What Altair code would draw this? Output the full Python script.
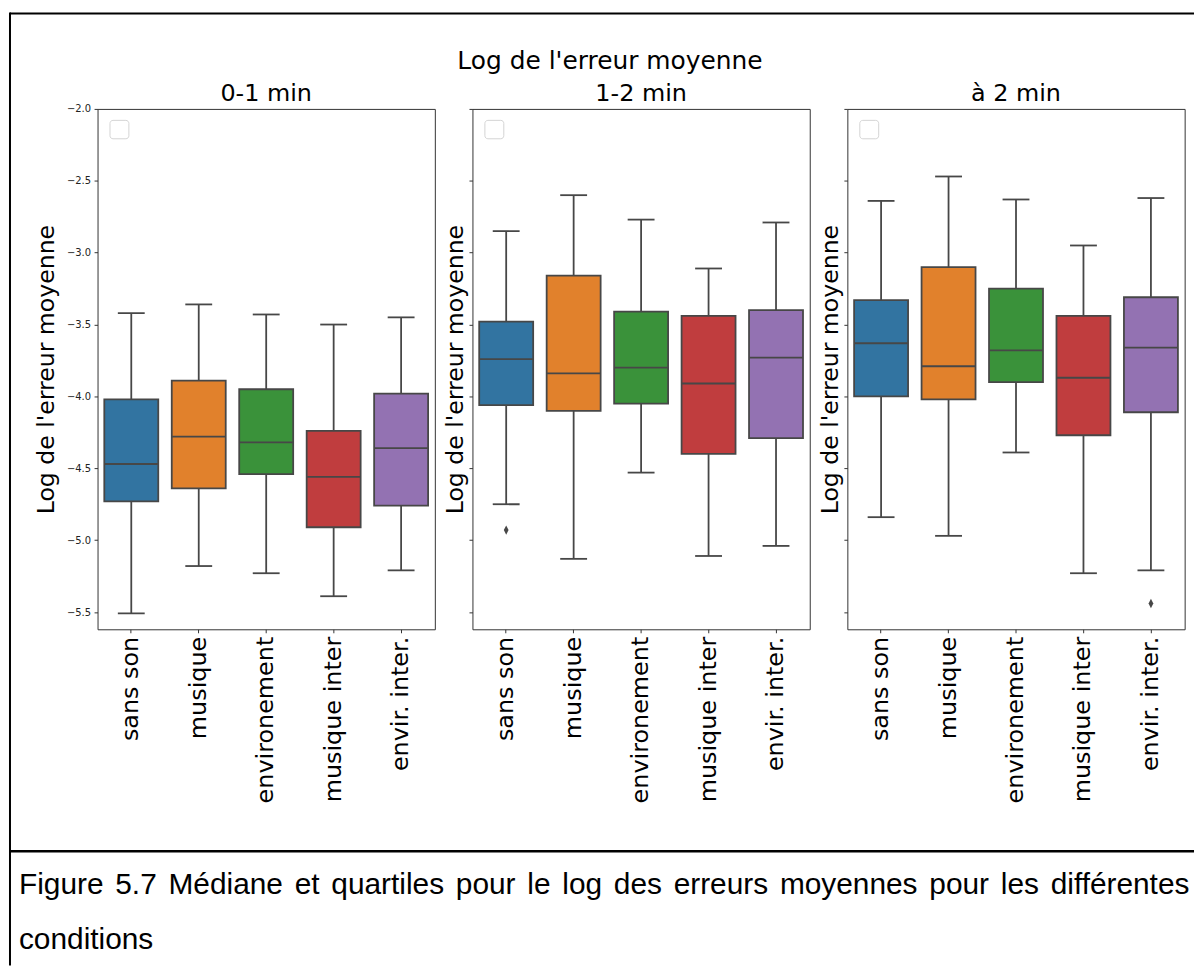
import altair as alt
import pandas as pd

categories = ["sans son", "musique", "environement", "musique inter", "envir. inter."]
colors = ["#3274a1", "#e1812c", "#3a923a", "#c03d3e", "#9372b2"]
panels = ["0-1 min", "1-2 min", "à 2 min"]

# panel 0-1 min
p1_lower = [-5.51, -5.18, -5.23, -5.39, -5.21]
p1_q1 = [-4.73, -4.64, -4.54, -4.91, -4.76]
p1_median = [-4.47, -4.28, -4.32, -4.56, -4.36]
p1_q3 = [-4.02, -3.89, -3.95, -4.24, -3.98]
p1_upper = [-3.42, -3.36, -3.43, -3.50, -3.45]

# panel 1-2 min
p2_lower = [-4.75, -5.13, -4.53, -5.11, -5.04]
p2_q1 = [-4.06, -4.10, -4.05, -4.40, -4.29]
p2_median = [-3.74, -3.84, -3.80, -3.91, -3.73]
p2_q3 = [-3.48, -3.16, -3.41, -3.44, -3.40]
p2_upper = [-2.85, -2.60, -2.77, -3.11, -2.79]

# panel à 2 min
p3_lower = [-4.84, -4.97, -4.39, -5.23, -5.21]
p3_q1 = [-4.00, -4.02, -3.90, -4.27, -4.11]
p3_median = [-3.63, -3.79, -3.68, -3.87, -3.66]
p3_q3 = [-3.33, -3.10, -3.25, -3.44, -3.31]
p3_upper = [-2.64, -2.47, -2.63, -2.95, -2.62]

outlier_panel = ["1-2 min", "à 2 min"]
outlier_cat = ["sans son", "envir. inter."]
outlier_val = [-4.93, -5.44]

y_ticks = [-5.5, -5.0, -4.5, -4.0, -3.5, -3.0, -2.5, -2.0]

suptitle = "Log de l'erreur moyenne"
ytitle = "Log de l'erreur moyenne"
caption_line1 = "Figure 5.7 Médiane et quartiles pour le log des erreurs moyennes pour les différentes"
caption_line2 = "conditions"

stats = {
    "0-1 min": (p1_lower, p1_q1, p1_median, p1_q3, p1_upper),
    "1-2 min": (p2_lower, p2_q1, p2_median, p2_q3, p2_upper),
    "à 2 min": (p3_lower, p3_q1, p3_median, p3_q3, p3_upper),
}

LINE = "#474747"
LW = 1.8
W = 339
H = 523
FONT = "DejaVu Sans"
yscale = alt.Scale(domain=[-5.62, -2.0], nice=False, zero=False)

# Arial-like advance widths (per em) for justified caption layout
ARIAL = {c: 0.556 for c in "abdeghnopqué0123456789"}
ARIAL.update({"c": 0.5, "k": 0.5, "s": 0.5, "v": 0.5, "x": 0.5, "y": 0.5, "z": 0.5,
              "f": 0.278, "t": 0.278, "i": 0.222, "j": 0.222, "l": 0.222, "r": 0.333,
              "m": 0.833, "w": 0.722, "F": 0.611, "M": 0.833, ".": 0.278})
CAP_FS = 30


def word_w(w):
    return sum(ARIAL.get(ch, 0.556) for ch in w) * CAP_FS


def decorations():
    """Borders, suptitle and caption, positioned relative to the first panel."""
    one = pd.DataFrame({"a": [0]})
    layers = []
    # frame lines of the figure
    layers.append(alt.Chart(one).mark_rule(color="black", strokeWidth=2).encode(
        x=alt.value(-88), y=alt.value(-97), y2=alt.value(861)))
    layers.append(alt.Chart(one).mark_rule(color="black", strokeWidth=2).encode(
        x=alt.value(-88), x2=alt.value(1102), y=alt.value(-96)))
    layers.append(alt.Chart(one).mark_rule(color="black", strokeWidth=2.5).encode(
        x=alt.value(-88), x2=alt.value(1102), y=alt.value(746)))
    # suptitle
    layers.append(alt.Chart(one).mark_text(
        text=suptitle, font=FONT, fontSize=25, align="center", baseline="alphabetic",
        color="black").encode(x=alt.value(515), y=alt.value(-40)))
    # caption, justified line 1
    words = caption_line1.split(" ")
    left, right = 18 - 97, 1195 - 97
    total = sum(word_w(w) for w in words)
    gap = (right - left - total) / (len(words) - 1)
    xpos = left
    for w in words:
        layers.append(alt.Chart(one).mark_text(
            text=w, font="Liberation Sans", fontSize=CAP_FS, align="left",
            baseline="alphabetic", color="black").encode(x=alt.value(xpos), y=alt.value(789)))
        xpos += word_w(w) + gap
    layers.append(alt.Chart(one).mark_text(
        text=caption_line2, font="Liberation Sans", fontSize=CAP_FS, align="left",
        baseline="alphabetic", color="black").encode(x=alt.value(left), y=alt.value(844)))
    return layers


def panel(name, first):
    lo, q1, med, q3, up = stats[name]
    df = pd.DataFrame({"cat": categories, "lower": lo, "q1": q1, "median": med,
                       "q3": q3, "upper": up})
    if first:
        yaxis = alt.Axis(values=y_ticks, title=ytitle,
                         labelExpr="replace(format(datum.value, '.1f'), '-', '\u2212')",
                         labelFont=FONT, labelFontSize=10, labelColor="#222",
                         tickSize=3.5, tickColor="#333", labelPadding=3.5, domain=False, grid=False,
                         titleFont=FONT, titleFontSize=23.7, titleFontWeight="normal",
                         titleColor="black", titleX=-44, titleY=H / 2, titleAngle=-90,
                         titleBaseline="alphabetic", titleAlign="center")
    else:
        yaxis = alt.Axis(values=y_ticks, title=ytitle, labels=False,
                         tickSize=3.5, tickColor="#333", domain=False, grid=False,
                         titleFont=FONT, titleFontSize=23.7, titleFontWeight="normal",
                         titleColor="black", titleX=-9.5, titleY=H / 2, titleAngle=-90,
                         titleBaseline="alphabetic", titleAlign="center")
    xaxis = alt.Axis(title=None, labelAngle=-90, labelFont=FONT, labelFontSize=24,
                     labelColor="black", tickSize=3.5, tickColor="#333", labelPadding=3.5,
                     domain=False, grid=False, labelOverlap=False)
    x = alt.X("cat:N", sort=categories,
              scale=alt.Scale(domain=categories, paddingInner=0, paddingOuter=0), axis=xaxis)

    def Y(f):
        return alt.Y(f + ":Q", scale=yscale, axis=yaxis)

    base = alt.Chart(df).encode(x=x)
    whisker = base.mark_rule(color=LINE, strokeWidth=LW).encode(y=Y("lower"), y2="upper:Q")
    cap_lo = base.mark_tick(color=LINE, size=27, thickness=LW, opacity=1).encode(y=Y("lower"))
    cap_hi = base.mark_tick(color=LINE, size=27, thickness=LW, opacity=1).encode(y=Y("upper"))
    box = base.mark_bar(width=alt.RelativeBandSize(0.8), stroke=LINE, strokeWidth=LW,
                        opacity=1).encode(
        y=Y("q1"), y2="q3:Q",
        color=alt.Color("cat:N", scale=alt.Scale(domain=categories, range=colors), legend=None))
    med_t = base.mark_tick(color=LINE, size=54.2, thickness=LW, opacity=1).encode(y=Y("median"))
    layers = [whisker, cap_lo, cap_hi, box, med_t]

    odf = pd.DataFrame({"panel": outlier_panel, "cat": outlier_cat, "val": outlier_val})
    odf = odf[odf["panel"] == name]
    if len(odf):
        layers.append(alt.Chart(odf).mark_point(
            shape="M0,-1L0.5,0L0,1L-0.5,0Z", filled=True, color=LINE, size=90,
            opacity=1).encode(x=x, y=Y("val")))

    one = pd.DataFrame({"a": [0]})
    legend_box = alt.Chart(one).mark_rect(
        fill="white", stroke="#d4d4d4", strokeWidth=1, cornerRadius=3).encode(
        x=alt.value(12.5), x2=alt.value(31.5), y=alt.value(11.5), y2=alt.value(30))
    layers.append(legend_box)
    # panel title
    layers.append(alt.Chart(one).mark_text(
        text=name, font=FONT, fontSize=24, align="center", baseline="alphabetic",
        color="black").encode(x=alt.value(W / 2), y=alt.value(-7.5)))
    if first:
        layers.extend(decorations())

    return alt.layer(*layers).properties(width=W, height=H)


chart = alt.hconcat(
    panel(panels[0], True), panel(panels[1], False), panel(panels[2], False),
    spacing=37.8, bounds="flush"
).properties(padding=0, background="white").configure_view(
    stroke="#333", strokeWidth=1
)

chart.save("out.html", embed_options={"renderer": "svg", "actions": False})
